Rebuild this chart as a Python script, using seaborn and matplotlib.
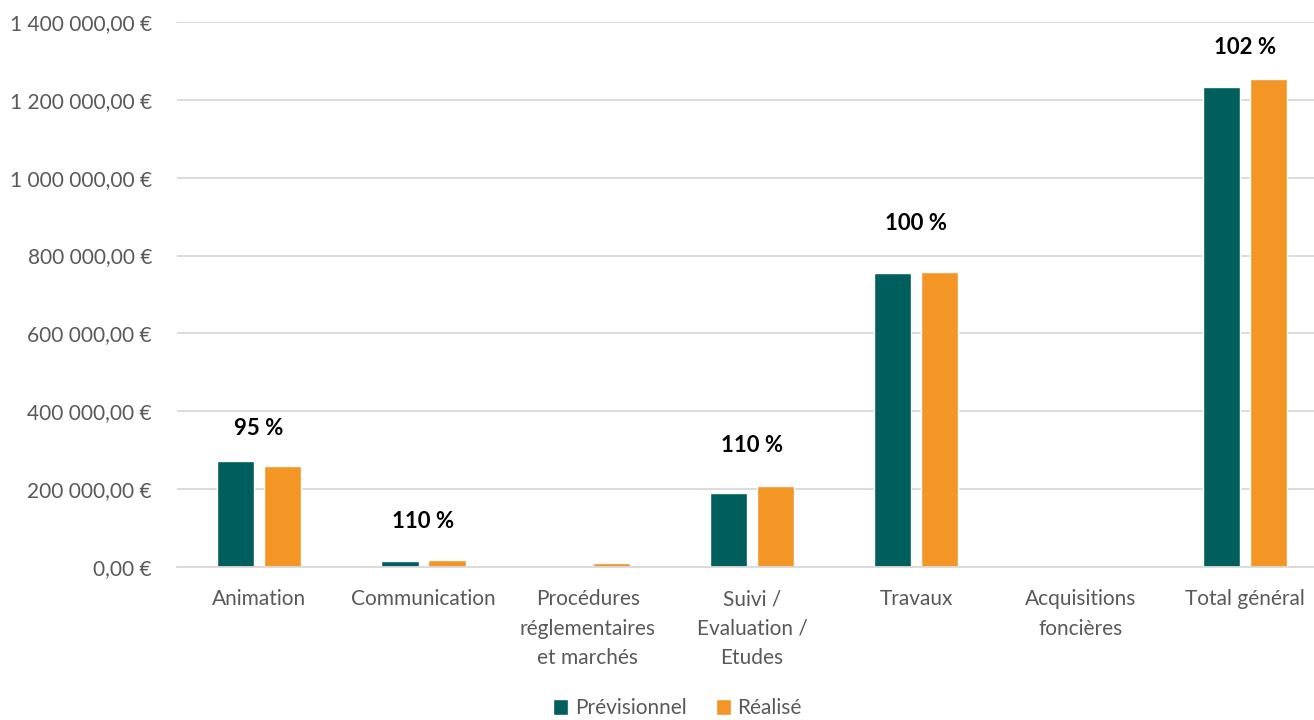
import matplotlib
matplotlib.use("Agg")
import matplotlib.pyplot as plt
from matplotlib.ticker import FuncFormatter, MultipleLocator
import seaborn as sns
import pandas as pd


# Data
categories = ["Animation", "Communication", "Procédures\nréglementaires\net marchés",
              "Suivi /\nEvaluation /\nEtudes", "Travaux", "Acquisitions\nfoncières",
              "Total général"]
previsionnel = [272000, 16000, 0, 190000, 755000, 0, 1233000]
realise = [259000, 17600, 10000, 209000, 757000, 0, 1252600]
pct_labels = ["95 %", "110 %", "", "110 %", "100 %", "", "102 %"]
pct_heights = [357000, 116000, 0, 313000, 883000, 0, 1335000]
series = ["Prévisionnel", "Réalisé"]
colors = ["#005F5C", "#F39626"]

df = pd.DataFrame({
    "Catégorie": categories * 2,
    "Montant": previsionnel + realise,
    "Série": [series[0]] * len(categories) + [series[1]] * len(categories),
})

sns.set_style("white")
plt.rcParams["font.family"] = ["Lato", "DejaVu Sans"]

fig = plt.figure(figsize=(13.14, 7.2), dpi=100)
ax = fig.add_axes([177 / 1314, 153 / 720, 1137 / 1314, 545 / 720])

sns.barplot(data=df, x="Catégorie", y="Montant", hue="Série", palette=colors,
            saturation=1, width=0.572, gap=0.21, ax=ax, legend=True)

ax.set_ylim(0, 1400000)
ax.set_xlim(-0.5, -0.5 + 1137 / 164.3)
ax.yaxis.set_major_locator(MultipleLocator(200000))


def euro(v, pos):
    s = f"{v:,.2f}".replace(",", " ").replace(".", ",")
    return s + " €"


ax.yaxis.set_major_formatter(FuncFormatter(euro))
ax.grid(axis="y", color="#d9d9d9", linewidth=1.3)
ax.set_axisbelow(True)
for s in ["top", "right", "left"]:
    ax.spines[s].set_visible(False)
ax.spines["bottom"].set_color("#d9d9d9")
ax.spines["bottom"].set_linewidth(1.3)

ax.tick_params(axis="both", length=0, labelsize=15, labelcolor="#595959")
ax.tick_params(axis="y", pad=18)
ax.tick_params(axis="x", pad=16)
ax.set_xlabel("")
ax.set_ylabel("")
for lbl in ax.get_xticklabels():
    lbl.set_linespacing(1.6)

for i, (txt, h) in enumerate(zip(pct_labels, pct_heights)):
    if txt:
        ax.text(i, h, txt, ha="center", va="center", fontsize=16,
                fontweight="bold", color="black")

ax.legend(loc="center", bbox_to_anchor=(0.44, -0.259), ncol=2,
          frameon=False, fontsize=15, handlelength=0.75, handleheight=0.75,
          handletextpad=0.3, columnspacing=1.4, labelcolor="#595959")

plt.savefig("out.png", dpi=100)
plt.close()
